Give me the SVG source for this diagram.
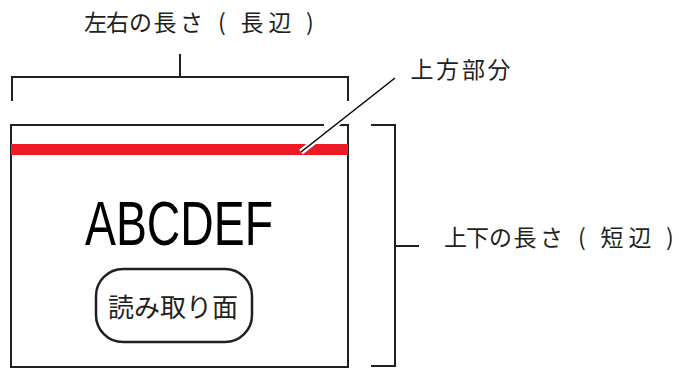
<svg xmlns="http://www.w3.org/2000/svg" width="679" height="368" viewBox="0 0 679 368">
<style>
.ln{fill:none;stroke:#231f20;stroke-width:2}
.jp{font-family:"Noto Sans CJK JP","Noto Sans",sans-serif;fill:#231f20}
</style>
<rect x="0" y="0" width="679" height="368" fill="#fff"/>
<g id="card">
<path class="ln" d="M324,125 H11 V367 H348 V125 H339"/>
<rect x="11" y="144" width="337" height="11" fill="#ed1c24"/>
<text x="85" y="245" font-family="Liberation Sans, Arial, sans-serif" font-size="63" textLength="188" lengthAdjust="spacingAndGlyphs" fill="#000">ABCDEF</text>
</g>
<g id="read-face">
<rect x="96" y="269" width="156" height="73" rx="27" ry="27" fill="none" stroke="#231f20" stroke-width="2.5"/>
<text class="jp" x="173" y="317" font-size="26" text-anchor="middle">読み取り面</text>
</g>
<g id="width-label">
<text class="jp" font-size="23" x="84 106 129 153.5 180 218 240.5 268.5 306" y="30.5">左右の長さ(長辺)</text>
</g>
<g id="top-label">
<text class="jp" font-size="23" x="410.5 436 462 487.5" y="77.5">上方部分</text>
</g>
<g id="height-label">
<text class="jp" font-size="23" x="444 466 489 513.5 540 578 600.5 628.5 666" y="245.5">上下の長さ(短辺)</text>
</g>
<g id="connectors">
<path class="ln" d="M12,101 V77 H348 V101 M180,77 V54"/>
<path class="ln" d="M371,125 H395 V366 H371 M395,246 H419"/>
<line x1="301" y1="152" x2="395" y2="78" stroke="#fff" stroke-width="6"/>
<line x1="301" y1="152" x2="395" y2="78" stroke="#000" stroke-width="1.5"/>
</g>
</svg>
